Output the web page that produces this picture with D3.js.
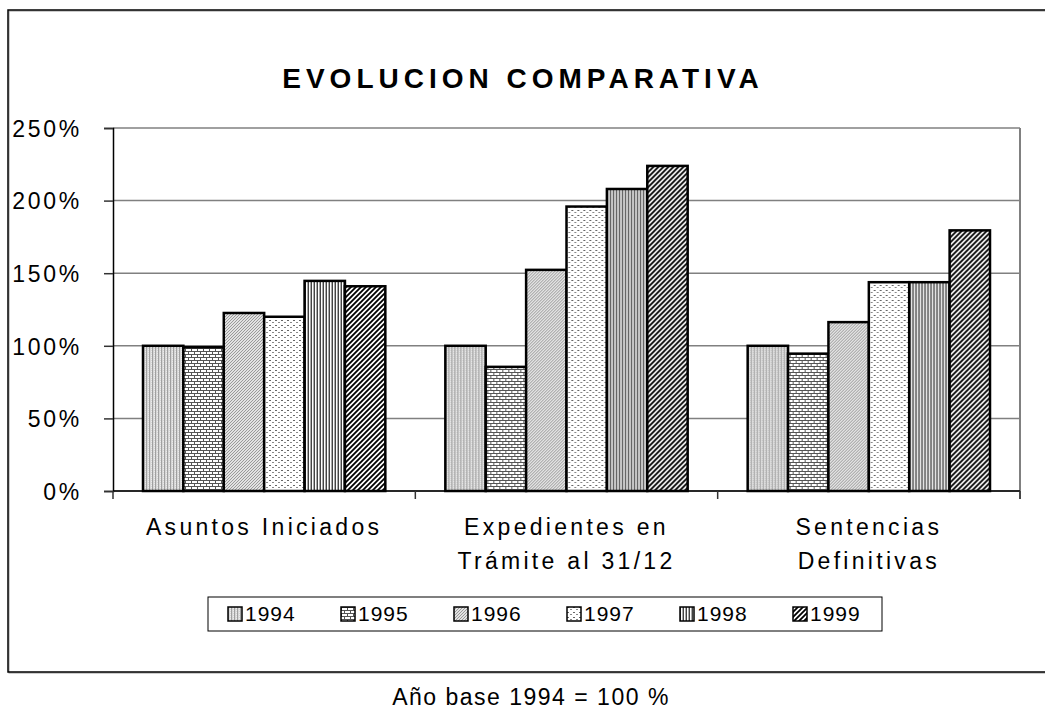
<html>
<script src='https://d3js.org/d3.v7.min.js'></script>
<style>
body {margin: 0; background: white;}
text {font-family: "Liberation Sans", Arial, sans-serif; fill: black;}
</style>
<body onload='init()'>
<svg width=1045 height=709></svg>

<script>
// data
var categories = [["Asuntos Iniciados"], ["Expedientes en", "Trámite al 31/12"], ["Sentencias", "Definitivas"]];
var years = ["1994", "1995", "1996", "1997", "1998", "1999"];
var values = {
    "1994": [1.00, 1.00, 1.00],
    "1995": [0.99, 0.855, 0.946],
    "1996": [1.226, 1.523, 1.163],
    "1997": [1.20, 1.959, 1.438],
    "1998": [1.447, 2.08, 1.438],
    "1999": [1.41, 2.239, 1.795]
};
var yTicks = [0, 0.5, 1, 1.5, 2, 2.5];

function init() {
var left = 113, right = 1020, top = 128, bottom = 491;
var svg = d3.select("svg");

// hatch patterns, one per year
var defs = svg.append("defs");
function pat(id, w, h, bg) {
    var p = defs.append("pattern").attr("id", id).attr("patternUnits", "userSpaceOnUse")
        .attr("width", w).attr("height", h);
    p.append("rect").attr("width", w).attr("height", h).attr("fill", bg || "white");
    return p;
}
var p = pat("p1994", 3, 2, "#d6d6d6");
p.append("rect").attr("x", 0).attr("width", 1).attr("height", 2).attr("fill", "#a0a0a0");
p.append("rect").attr("x", 2).attr("y", 1).attr("width", 1).attr("height", 1).attr("fill", "#ececec");

p = pat("p1995", 6, 6);
p.append("rect").attr("y", 0).attr("width", 6).attr("height", 1).attr("fill", "#555");
p.append("rect").attr("y", 3).attr("width", 6).attr("height", 1).attr("fill", "#555");
p.append("rect").attr("x", 0).attr("y", 0).attr("width", 1).attr("height", 3).attr("fill", "#555");
p.append("rect").attr("x", 3).attr("y", 3).attr("width", 1).attr("height", 3).attr("fill", "#555");

p = pat("p1996", 3, 3, "#e2e2e2");
p.append("path").attr("d", "M0,3 L3,0 M-1,1 L1,-1 M2,4 L4,2").attr("stroke", "#999").attr("stroke-width", 1);

p = pat("p1997", 6, 5);
p.append("rect").attr("x", 0).attr("y", 0).attr("width", 2).attr("height", 1).attr("fill", "#666");
p.append("rect").attr("x", 3).attr("y", 2).attr("width", 2).attr("height", 1).attr("fill", "#888");

p = pat("p1998", 3, 3);
p.append("rect").attr("x", 0).attr("width", 1).attr("height", 3).attr("fill", "#444");
p.append("rect").attr("x", 2).attr("width", 1).attr("height", 3).attr("fill", "#aaa");

p = pat("p1999", 5, 5);
p.append("path").attr("d", "M0,5 L5,0 M-1,1 L1,-1 M4,6 L6,4").attr("stroke", "black").attr("stroke-width", 1.8);

// outer chart frame
svg.append("rect").attr("x", 9).attr("y", 11).attr("width", 1060).attr("height", 662)
   .attr("fill", "none").attr("stroke", "#999").attr("stroke-width", 1);
svg.append("rect").attr("x", 8).attr("y", 10).attr("width", 1060).attr("height", 662)
   .attr("fill", "none").attr("stroke", "black").attr("stroke-width", 1.5);

var y = d3.scaleLinear().domain([0, 2.5]).range([bottom, top]);
var x0 = d3.scaleBand().domain(d3.range(categories.length)).range([left, right]);
var x1 = d3.scaleBand().domain(years).range([30, x0.bandwidth() - 30]);

// grid lines
svg.append("g").selectAll("line").data(yTicks).enter().append("line")
   .attr("x1", left).attr("x2", right)
   .attr("y1", function(d) {return y(d);}).attr("y2", function(d) {return y(d);})
   .attr("stroke", "#808080").attr("stroke-width", 1.5);
svg.append("line").attr("x1", right).attr("x2", right).attr("y1", top).attr("y2", bottom + 8)
   .attr("stroke", "#808080").attr("stroke-width", 2);

// bars
var groups = svg.append("g").selectAll("g").data(categories).enter().append("g")
   .attr("transform", function(d, i) {return "translate(" + x0(i) + ",0)";});
groups.selectAll("rect")
   .data(function(d, i) {return years.map(function(yr) {return {year: yr, v: values[yr][i]};});})
   .enter().append("rect")
   .attr("x", function(d) {return x1(d.year);})
   .attr("y", function(d) {return y(d.v);})
   .attr("width", x1.bandwidth())
   .attr("height", function(d) {return bottom - y(d.v);})
   .attr("fill", function(d) {return "url(#p" + d.year + ")";})
   .attr("stroke", "black").attr("stroke-width", 2.5);

// y axis
var yAxis = svg.append("g").attr("transform", "translate(" + left + ",0)")
   .call(d3.axisLeft(y).tickValues(yTicks).tickFormat(d3.format(".0%")).tickSize(9).tickPadding(22));
yAxis.select(".domain").attr("stroke", "black").attr("stroke-width", 1.5);
yAxis.selectAll("line").attr("stroke", "#333").attr("stroke-width", 1.5);
yAxis.selectAll("text").style("font-size", "23px").style("letter-spacing", "2.7px")
   .attr("font-family", null).attr("dy", "0.36em");

// x axis with ticks between categories
svg.append("line").attr("x1", left).attr("x2", right).attr("y1", bottom).attr("y2", bottom)
   .attr("stroke", "black").attr("stroke-width", 1.5);
svg.append("g").selectAll("line").data(d3.range(categories.length + 1)).enter().append("line")
   .attr("x1", function(d) {return left + d * x0.bandwidth();})
   .attr("x2", function(d) {return left + d * x0.bandwidth();})
   .attr("y1", bottom).attr("y2", bottom + 8)
   .attr("stroke", "#333").attr("stroke-width", 1.5);

svg.append("g").selectAll("text").data(categories).enter().append("text")
   .attr("x", function(d, i) {return x0(i) + x0.bandwidth() / 2;})
   .attr("y", 535)
   .style("text-anchor", "middle").style("font-size", "23px").style("letter-spacing", "3.3px")
   .selectAll("tspan").data(function(d) {return d;}).enter().append("tspan")
   .attr("x", function() {return d3.select(this.parentNode).attr("x");})
   .attr("dy", function(d, i) {return i == 0 ? 0 : 34;})
   .text(function(d) {return d;});

// title
svg.append("text").attr("x", 523).attr("y", 88)
   .style("text-anchor", "middle").style("font-size", "28px").style("font-weight", "bold")
   .style("letter-spacing", "5px")
   .text("EVOLUCION COMPARATIVA");

// legend
svg.append("rect").attr("x", 208).attr("y", 597).attr("width", 674).attr("height", 34)
   .attr("fill", "white").attr("stroke", "black").attr("stroke-width", 1);
var leg = svg.append("g").selectAll("g").data(years).enter().append("g")
   .attr("transform", function(d, i) {return "translate(" + (228 + i * 113) + ",607)";});
leg.append("rect").attr("width", 14).attr("height", 14)
   .attr("fill", function(d) {return "url(#p" + d + ")";})
   .attr("stroke", "black").attr("stroke-width", 1.5);
leg.append("text").attr("x", 17).attr("y", 14)
   .style("font-size", "21px").style("letter-spacing", "1px")
   .text(function(d) {return d;});

// note under the chart
svg.append("text").attr("x", 531).attr("y", 705)
   .style("text-anchor", "middle").style("font-size", "23px").style("letter-spacing", "1.5px")
   .text("Año base 1994 = 100 %");
}
</script>
</body>
</html>
